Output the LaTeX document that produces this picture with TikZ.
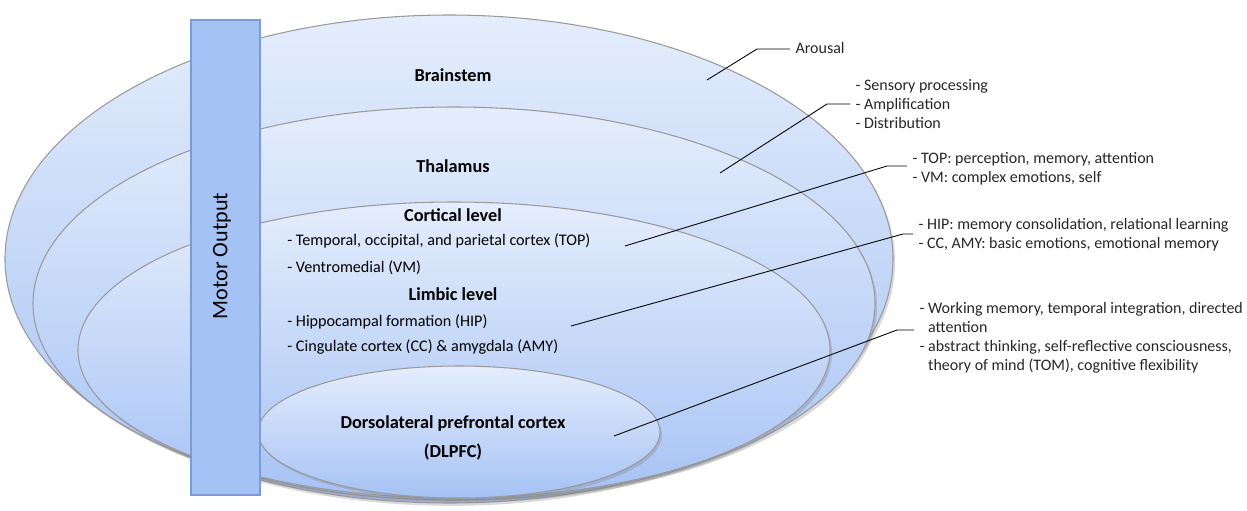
\documentclass[tikz,border=0pt]{standalone}
\usepackage{fontspec}
\setmainfont{Carlito}
\usetikzlibrary{shapes.geometric,shadows}

\definecolor{layertop}{HTML}{E4EDFC}
\definecolor{layerbottom}{HTML}{A6C2F4}
\definecolor{layerline}{HTML}{9A9A9A}
\definecolor{barfill}{HTML}{A4C2F4}
\definecolor{barline}{HTML}{7A9BD6}

\tikzset{%
  every layer/.style={
    ellipse,
    draw=layerline,
    line width=0.6pt,
    top color=layertop,
    bottom color=layerbottom,
    inner sep=0pt,
    drop shadow={shadow xshift=1.2pt, shadow yshift=-1.6pt, opacity=0.3}
  },
  motor bar/.style={
    rectangle,
    draw=barline,
    fill=barfill,
    line width=0.6pt,
    inner sep=0pt
  },
  layer label/.style={
    font=\fontsize{10.4}{12.5}\selectfont\bfseries,
    inner sep=0pt
  },
  layer item/.style={
    font=\fontsize{9.2}{10.8}\selectfont,
    anchor=west,
    inner sep=0pt
  },
  note/.style={
    font=\fontsize{9.1}{10.8}\selectfont,
    anchor=west,
    align=left,
    inner xsep=3pt,
    inner ysep=0pt,
    text=black!85
  },
}

\begin{document}
\begin{tikzpicture}[x=0.2mm, y=-0.2mm]

\useasboundingbox (0,0) rectangle (1247,510);

% Ebenen
\node [every layer, minimum width=177.6mm, minimum height=97.6mm] (brainstem) at (449,259) {};
\node [every layer, minimum width=168.4mm, minimum height=78.6mm] (thalamus) at (454,303.5) {};
\node [every layer, minimum width=150.4mm, minimum height=59.2mm] (cortical) at (454,350) {};
\node [every layer, minimum width=80.4mm, minimum height=26.4mm] (dlpfc) at (459,432) {};

% Motorischer Ausgang
\node [motor bar, minimum width=13.8mm, minimum height=95mm] (motor) at (225.5,257.5) {};
\node [rotate=90, font=\fontsize{12.6}{15}\selectfont] (motor-label) at (222,256) {Motor Output};


% Ebenen Beschriftungen
\node [layer label] (brainstem-label) at (453,75) {Brainstem};
\node [layer label] (thalamus-label) at (453,166) {Thalamus};
\node [layer label] (cortical-label) at (453,215) {Cortical level};
\node [layer label] (limbic-label) at (453,294) {Limbic level};
\node [layer label] (dlpfc-label) at (453,424) {Dorsolateral prefrontal cortex};
\node [layer label] (dlpfc-short) at (453,452) {(DLPFC)};

\node [layer item] (item-1) at (287,241) {- Temporal, occipital, and parietal cortex (TOP)};
\node [layer item] (item-2) at (287,268) {- Ventromedial (VM)};
\node [layer item] (item-3) at (287,322) {- Hippocampal formation (HIP)};
\node [layer item] (item-4) at (287,347) {- Cingulate cortex (CC) \& amygdala (AMY)};


% Funktionen
\node [note] (arousal-note) at (790,48) {Arousal};
\node [note] (sensory-note) at (850,104) {- Sensory processing\\- Amplification\\- Distribution};
\node [note] (top-note) at (907,168.5) {- TOP: perception, memory, attention\\- VM: complex emotions, self};
\node [note] (hip-note) at (913,234.5) {- HIP: memory consolidation, relational learning\\- CC, AMY: basic emotions, emotional memory};
\node [note] (dlpfc-note) at (914,338) {- Working memory, temporal integration, directed\\\phantom{- }attention\\- abstract thinking, self-reflective consciousness,\\\phantom{- }theory of mind (TOM), cognitive flexibility};


% Verbindungen
\coordinate (arousal-in) at (707,80);
\coordinate (arousal-bend) at (757,49);
\coordinate (sensory-in) at (720,173);
\coordinate (sensory-bend) at (827,104);
\coordinate (top-in) at (625,246);
\coordinate (top-bend) at (887,166);
\coordinate (hip-in) at (571,326);
\coordinate (hip-bend) at (903,234);
\coordinate (dlpfc-in) at (614,436);
\coordinate (dlpfc-bend) at (897,330);

\foreach \n in {arousal,sensory,top,hip,dlpfc}
  \draw [line width=0.5pt] (\n-in) -- (\n-bend) -- (\n-bend -| \n-note.west);

\end{tikzpicture}
\end{document}
